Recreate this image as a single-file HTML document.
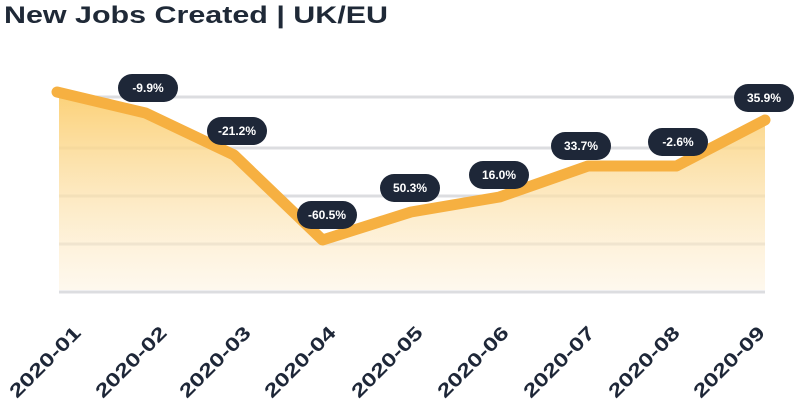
<!DOCTYPE html>
<html><head><style>
body{margin:0;background:#fff;width:800px;height:405px;overflow:hidden;font-family:"Liberation Sans",sans-serif}
</style></head><body>
<svg width="800" height="405" xmlns="http://www.w3.org/2000/svg">
<defs>
<linearGradient id="g" x1="0" y1="0" x2="0" y2="1">
<stop offset="0" stop-color="#fbcf72" stop-opacity="0.95"/>
<stop offset="1" stop-color="#fdf1dc" stop-opacity="0.5"/>
</linearGradient>
</defs>
<text x="4" y="23" font-size="24" font-weight="bold" fill="#1f2937" textLength="384" lengthAdjust="spacingAndGlyphs">New Jobs Created | UK/EU</text>
<g stroke="#dcdde0" stroke-width="3">
<line x1="59" y1="97" x2="765" y2="97"/>
<line x1="59" y1="148" x2="765" y2="148"/>
<line x1="59" y1="196" x2="765" y2="196"/>
<line x1="59" y1="244" x2="765" y2="244"/>
<line x1="59" y1="292" x2="765" y2="292"/>
</g>
<polygon fill="url(#g)" points="59,95 145.5,116 234,158 322.5,243 411,215 499.5,200 588,169 676.5,169 765,123 765,290 59,290"/>
<polyline fill="none" stroke="#f6b041" stroke-width="11" stroke-linecap="round" stroke-linejoin="round" points="57,92 145.5,113 234,155 322.5,240 411,212 499.5,197 588,166 676.5,166 765,120"/>
<g font-size="12" font-weight="bold" fill="#fff" text-anchor="middle">
<g fill="#1e2738">
<rect x="118" y="74" width="60" height="28" rx="14"/>
<rect x="207" y="117" width="60" height="28" rx="14"/>
<rect x="297" y="201" width="60" height="28" rx="14"/>
<rect x="380" y="174" width="60" height="28" rx="14"/>
<rect x="469" y="161" width="60" height="28" rx="14"/>
<rect x="551" y="132" width="60" height="28" rx="14"/>
<rect x="648" y="128" width="60" height="28" rx="14"/>
<rect x="734" y="84" width="60" height="28" rx="14"/>
</g>
<text x="148" y="92">-9.9%</text>
<text x="237" y="135">-21.2%</text>
<text x="327" y="219">-60.5%</text>
<text x="410" y="192">50.3%</text>
<text x="499" y="179">16.0%</text>
<text x="581" y="150">33.7%</text>
<text x="678" y="146">-2.6%</text>
<text x="764" y="102">35.9%</text>
</g>
<g font-size="19" font-weight="bold" fill="#1e2738" text-anchor="end">
<text transform="translate(82,334) rotate(-45)" textLength="92" lengthAdjust="spacingAndGlyphs">2020-01</text>
<text transform="translate(168,334) rotate(-45)" textLength="92" lengthAdjust="spacingAndGlyphs">2020-02</text>
<text transform="translate(252,334) rotate(-45)" textLength="92" lengthAdjust="spacingAndGlyphs">2020-03</text>
<text transform="translate(337,334) rotate(-45)" textLength="92" lengthAdjust="spacingAndGlyphs">2020-04</text>
<text transform="translate(424,334) rotate(-45)" textLength="92" lengthAdjust="spacingAndGlyphs">2020-05</text>
<text transform="translate(510,334) rotate(-45)" textLength="92" lengthAdjust="spacingAndGlyphs">2020-06</text>
<text transform="translate(596,334) rotate(-45)" textLength="92" lengthAdjust="spacingAndGlyphs">2020-07</text>
<text transform="translate(681,334) rotate(-45)" textLength="92" lengthAdjust="spacingAndGlyphs">2020-08</text>
<text transform="translate(766,334) rotate(-45)" textLength="92" lengthAdjust="spacingAndGlyphs">2020-09</text>
</g>
</svg>
</body></html>
